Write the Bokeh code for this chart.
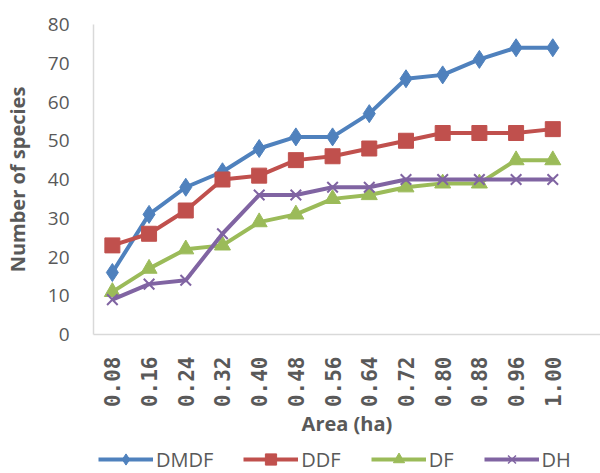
import math
from bokeh.plotting import figure
from bokeh.layouts import column
from bokeh.models import FixedTicker, Range1d, Legend, LegendItem
from bokeh.embed import file_html
from bokeh.resources import INLINE

areas = ["0.08", "0.16", "0.24", "0.32", "0.40", "0.48", "0.56",
         "0.64", "0.72", "0.80", "0.88", "0.96", "1.00"]
dmdf = [16, 31, 38, 42, 48, 51, 51, 57, 66, 67, 71, 74, 74]
ddf = [23, 26, 32, 40, 41, 45, 46, 48, 50, 52, 52, 52, 53]
df = [11, 17, 22, 23, 29, 31, 35, 36, 38, 39, 39, 45, 45]
dh = [9, 13, 14, 26, 36, 36, 38, 38, 40, 40, 40, 40, 40]
y_ticks = [0, 10, 20, 30, 40, 50, 60, 70, 80]

xs = list(range(len(areas)))
grey = "#595959"

p = figure(width=600, height=444, output_backend="svg", toolbar_location=None,
           x_range=Range1d(-0.514, 13.3), y_range=Range1d(0, 80),
           min_border_left=89, min_border_right=0, min_border_top=24,
           min_border_bottom=110, outline_line_color=None)
p.xgrid.visible = False
p.ygrid.visible = False

series = [("DMDF", dmdf, "#4F81BD", "diamond", 18, 13),
          ("DDF", ddf, "#C0504D", "square", 15, 12),
          ("DF", df, "#9BBB59", "triangle", 16, 12),
          ("DH", dh, "#8064A2", "x", 15, 12)]

for name, vals, col, mk, sz, lsz in series:
    p.line(xs, vals, line_color=col, line_width=4, line_join="round")
    if mk == "x":
        p.scatter(xs, vals, marker=mk, size=sz, line_color=col, line_width=2)
    else:
        p.scatter(xs, vals, marker=mk, size=sz, fill_color=col, line_color=col)

# axes
p.xaxis.ticker = FixedTicker(ticks=xs)
p.xaxis.major_label_overrides = {i: a for i, a in enumerate(areas)}
p.xaxis.major_label_orientation = math.pi / 2
p.xaxis.major_label_text_font = "DejaVu Sans Mono"
p.xaxis.major_label_text_font_style = "bold"
p.xaxis.major_label_text_font_size = "21px"
p.xaxis.major_label_text_color = grey
p.xaxis.major_label_standoff = 16
p.xaxis.axis_label = "Area (ha)"
p.xaxis.axis_label_text_font = "Open Sans"
p.xaxis.axis_label_text_font_style = "bold"
p.xaxis.axis_label_text_font_size = "20px"
p.xaxis.axis_label_text_color = grey
p.xaxis.axis_label_standoff = 0

p.yaxis.ticker = FixedTicker(ticks=y_ticks)
p.yaxis.major_label_text_font = "Open Sans"
p.yaxis.major_label_text_font_size = "19px"
p.yaxis.major_label_text_color = grey
p.yaxis.major_label_standoff = 18
p.yaxis.axis_label = "Number of species"
p.yaxis.axis_label_text_font = "Open Sans"
p.yaxis.axis_label_text_font_style = "bold"
p.yaxis.axis_label_text_font_size = "20px"
p.yaxis.axis_label_text_color = grey
p.yaxis.axis_label_standoff = 14

for ax in (p.xaxis, p.yaxis):
    ax.axis_line_color = "#D9D9D9"
    ax.axis_line_width = 1.5
    ax.major_tick_line_color = None
    ax.minor_tick_line_color = None

# legend strip below the chart
lg = figure(width=600, height=29, output_backend="svg", toolbar_location=None,
            x_range=Range1d(100, 101), y_range=Range1d(100, 101),
            x_axis_location=None, y_axis_location=None,
            min_border_left=0, min_border_right=0, min_border_top=0,
            min_border_bottom=0, outline_line_color=None)
lg.xgrid.visible = False
lg.ygrid.visible = False

items = []
for name, vals, col, mk, sz, lsz in series:
    l = lg.line(xs, vals, line_color=col, line_width=4)
    if mk == "x":
        s = lg.scatter(xs, vals, marker=mk, size=lsz, line_color=col, line_width=1.5)
    else:
        s = lg.scatter(xs, vals, marker=mk, size=lsz, fill_color=col, line_color=col)
    items.append(LegendItem(label=name, renderers=[l, s]))

legend = Legend(items=items, orientation="horizontal", location=(5, 0),
                label_text_font="Open Sans", label_text_font_size="20px",
                label_text_color=grey, glyph_width=55, glyph_height=28,
                label_height=28, label_standoff=3, spacing=30, padding=0, margin=0,
                border_line_color=None, background_fill_alpha=0)
lg.add_layout(legend, "center")

layout = column(p, lg, spacing=0)
open("out.html", "w").write(file_html(layout, INLINE))
